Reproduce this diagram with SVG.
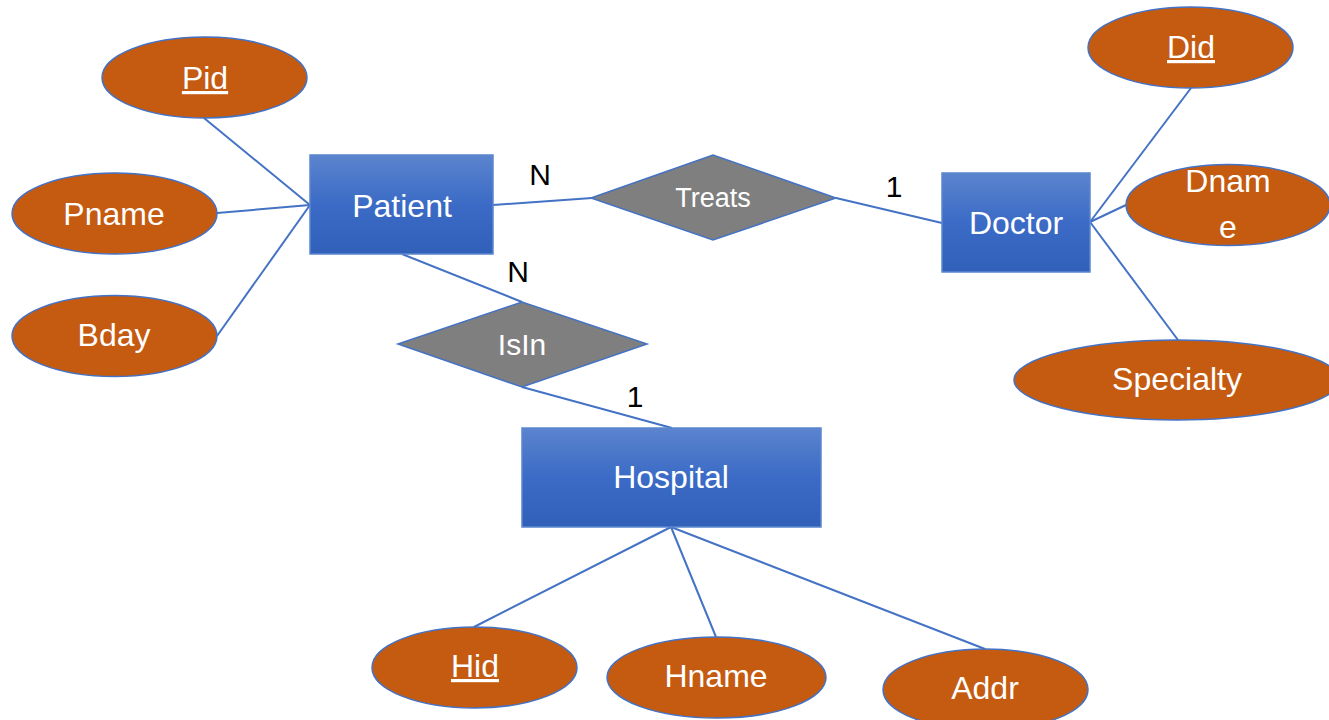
<svg xmlns="http://www.w3.org/2000/svg" width="1329" height="720" viewBox="0 0 1329 720">
<defs>
<linearGradient id="entGrad" x1="0" y1="0" x2="0" y2="1">
<stop offset="0" stop-color="#5C84CE"/>
<stop offset="0.5" stop-color="#3B6BC6"/>
<stop offset="1" stop-color="#3060B8"/>
</linearGradient>
<style>
.ent{fill:url(#entGrad);stroke:#5B86D0;stroke-width:1.5}
.attr{fill:#C55A11;stroke:#4472C4;stroke-width:1.5}
.rel{fill:#7F7F7F;stroke:#4472C4;stroke-width:1.5}
.conn line{stroke:#4472C4;stroke-width:2}
text{font-family:"Liberation Sans",Arial,sans-serif;text-anchor:middle}
.wt{fill:#FFFFFF;font-size:32px}
.rt{fill:#FFFFFF;font-size:27px}
.card{fill:#000000;font-size:30px}
.ul{text-decoration:underline}
</style>
</defs>
<rect width="1329" height="720" fill="#FFFFFF"/>
<g id="connectors" class="conn">
<line x1="204" y1="118" x2="310" y2="205"/>
<line x1="217" y1="213" x2="310" y2="205"/>
<line x1="217" y1="336" x2="310" y2="205"/>
<line x1="493" y1="205" x2="592" y2="198"/>
<line x1="836" y1="198" x2="942" y2="223"/>
<line x1="402" y1="254" x2="522" y2="302"/>
<line x1="522" y1="387" x2="672" y2="428"/>
<line x1="1090" y1="222" x2="1191" y2="88"/>
<line x1="1090" y1="222" x2="1126" y2="205"/>
<line x1="1090" y1="222" x2="1178" y2="340"/>
<line x1="671" y1="527" x2="474" y2="627"/>
<line x1="671" y1="527" x2="716" y2="637"/>
<line x1="671" y1="527" x2="985" y2="649"/>
</g>
<g id="patient">
<rect class="ent" x="310" y="155" width="183" height="99"/>
<text class="wt" x="402" y="217">Patient</text>
</g>
<g id="doctor">
<rect class="ent" x="942" y="173" width="148" height="99"/>
<text class="wt" x="1016" y="234">Doctor</text>
</g>
<g id="hospital">
<rect class="ent" x="522" y="428" width="299" height="99"/>
<text class="wt" x="671" y="488">Hospital</text>
</g>
<g id="treats">
<polygon class="rel" points="591,198 713,155 836,198 713,240"/>
<text class="rt" x="713" y="207">Treats</text>
</g>
<g id="isin">
<polygon class="rel" points="398,344 522,302 647,344 522,387"/>
<text class="rt" x="522" y="355" style="font-size:30px">IsIn</text>
</g>
<g id="pid">
<ellipse class="attr" cx="204.5" cy="77.5" rx="102.5" ry="40.5"/>
<text class="wt ul" x="205" y="89">Pid</text>
</g>
<g id="pname">
<ellipse class="attr" cx="114.5" cy="213.5" rx="102.5" ry="40.5"/>
<text class="wt" x="114" y="225">Pname</text>
</g>
<g id="bday">
<ellipse class="attr" cx="114.5" cy="336" rx="102.5" ry="40.5"/>
<text class="wt" x="114" y="346">Bday</text>
</g>
<g id="did">
<ellipse class="attr" cx="1190.5" cy="47.5" rx="102.5" ry="40.5"/>
<text class="wt ul" x="1191" y="58">Did</text>
</g>
<g id="dname">
<ellipse class="attr" cx="1228" cy="205" rx="102" ry="40.5"/>
<text class="wt" x="1228" y="192">Dnam</text>
<text class="wt" x="1228" y="238">e</text>
</g>
<g id="specialty">
<ellipse class="attr" cx="1177" cy="380" rx="163" ry="40"/>
<text class="wt" x="1177" y="390">Specialty</text>
</g>
<g id="hid">
<ellipse class="attr" cx="474.5" cy="667.5" rx="102.5" ry="40.5"/>
<text class="wt ul" x="475" y="677">Hid</text>
</g>
<g id="hname">
<ellipse class="attr" cx="716.5" cy="677.5" rx="109.5" ry="40.5"/>
<text class="wt" x="716" y="687">Hname</text>
</g>
<g id="addr">
<ellipse class="attr" cx="985.5" cy="689.5" rx="102.5" ry="40.5"/>
<text class="wt" x="985" y="699">Addr</text>
</g>
<g id="cardinalities">
<text class="card" x="540" y="185">N</text>
<text class="card" x="894" y="197">1</text>
<text class="card" x="518" y="282">N</text>
<text class="card" x="635" y="407">1</text>
</g>
</svg>
